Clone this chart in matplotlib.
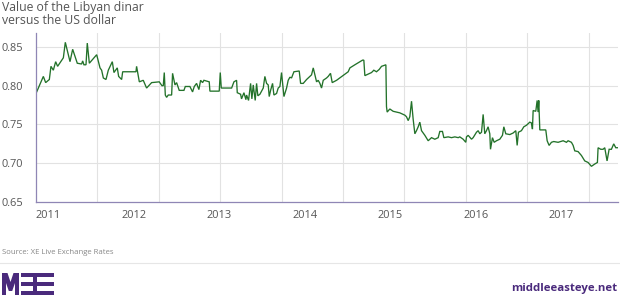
import numpy as np
import matplotlib.pyplot as plt
from matplotlib.patches import Polygon, Rectangle

# decimal year of each reading, and the LYD/USD value
years = [2011.000, 2011.086, 2011.113, 2011.156, 2011.175, 2011.203, 2011.230, 2011.253,
         2011.320, 2011.343, 2011.398, 2011.429, 2011.483, 2011.534, 2011.546, 2011.561,
         2011.585, 2011.600, 2011.624, 2011.710, 2011.749, 2011.768, 2011.788, 2011.819,
         2011.846, 2011.893, 2011.912, 2011.951, 2011.967, 2012.002, 2012.014, 2012.170,
         2012.177, 2012.209, 2012.255, 2012.294, 2012.353, 2012.442, 2012.474, 2012.489,
         2012.501, 2012.513, 2012.528, 2012.548, 2012.587, 2012.598, 2012.626, 2012.645,
         2012.676, 2012.731, 2012.747, 2012.801, 2012.832, 2012.852, 2012.879, 2012.906,
         2012.926, 2012.949, 2012.965, 2013.027, 2013.035, 2013.144, 2013.156, 2013.168,
         2013.289, 2013.316, 2013.347, 2013.355, 2013.394, 2013.405, 2013.433, 2013.456,
         2013.464, 2013.487, 2013.511, 2013.526, 2013.542, 2013.565, 2013.581, 2013.596,
         2013.620, 2013.659, 2013.678, 2013.698, 2013.717, 2013.729, 2013.745, 2013.768,
         2013.784, 2013.815, 2013.834, 2013.854, 2013.873, 2013.901, 2013.932, 2013.951,
         2013.971, 2013.990, 2014.018, 2014.080, 2014.096, 2014.127, 2014.166, 2014.224,
         2014.244, 2014.263, 2014.283, 2014.302, 2014.322, 2014.341, 2014.361, 2014.400,
         2014.419, 2014.446, 2014.466, 2014.517, 2014.653, 2014.673, 2014.731, 2014.821,
         2014.836, 2014.848, 2014.926, 2014.953, 2014.984, 2015.016, 2015.043, 2015.094,
         2015.101, 2015.109, 2015.140, 2015.179, 2015.257, 2015.316, 2015.335, 2015.355,
         2015.374, 2015.394, 2015.413, 2015.433, 2015.452, 2015.472, 2015.491, 2015.511,
         2015.550, 2015.589, 2015.628, 2015.667, 2015.706, 2015.725, 2015.756, 2015.772,
         2015.823, 2015.862, 2015.901, 2015.940, 2015.959, 2015.998, 2016.029, 2016.037,
         2016.057, 2016.096, 2016.115, 2016.154, 2016.174, 2016.193, 2016.213, 2016.232,
         2016.251, 2016.271, 2016.290, 2016.310, 2016.318, 2016.341, 2016.361, 2016.388,
         2016.427, 2016.458, 2016.474, 2016.497, 2016.544, 2016.583, 2016.614, 2016.630,
         2016.645, 2016.680, 2016.708, 2016.739, 2016.778, 2016.797, 2016.809, 2016.817,
         2016.848, 2016.864, 2016.875, 2016.883, 2016.895, 2016.965, 2016.981, 2017.004,
         2017.031, 2017.058, 2017.109, 2017.168, 2017.207, 2017.226, 2017.265, 2017.285,
         2017.304, 2017.343, 2017.382, 2017.421, 2017.460, 2017.499, 2017.538, 2017.569,
         2017.577, 2017.608, 2017.635, 2017.655, 2017.682, 2017.706, 2017.733, 2017.760,
         2017.784, 2017.811]
rate = [0.790, 0.812, 0.804, 0.808, 0.825, 0.820, 0.831, 0.825,
        0.836, 0.856, 0.831, 0.847, 0.829, 0.828, 0.832, 0.827,
        0.827, 0.855, 0.829, 0.840, 0.823, 0.820, 0.810, 0.808,
        0.820, 0.831, 0.817, 0.823, 0.812, 0.808, 0.818, 0.818,
        0.825, 0.805, 0.807, 0.797, 0.804, 0.805, 0.800, 0.800,
        0.817, 0.788, 0.785, 0.788, 0.788, 0.816, 0.801, 0.804,
        0.794, 0.794, 0.799, 0.799, 0.792, 0.799, 0.803, 0.795,
        0.807, 0.804, 0.807, 0.805, 0.793, 0.793, 0.817, 0.797,
        0.797, 0.805, 0.807, 0.791, 0.789, 0.783, 0.791, 0.782,
        0.788, 0.781, 0.803, 0.783, 0.801, 0.781, 0.803, 0.787,
        0.789, 0.797, 0.812, 0.803, 0.801, 0.786, 0.794, 0.803,
        0.788, 0.790, 0.797, 0.799, 0.817, 0.786, 0.797, 0.807,
        0.811, 0.810, 0.818, 0.819, 0.803, 0.803, 0.808, 0.814,
        0.823, 0.814, 0.805, 0.807, 0.803, 0.797, 0.807, 0.810,
        0.812, 0.816, 0.804, 0.807, 0.818, 0.823, 0.827, 0.833,
        0.833, 0.813, 0.817, 0.820, 0.818, 0.821, 0.825, 0.827,
        0.773, 0.766, 0.770, 0.767, 0.765, 0.762, 0.760, 0.755,
        0.760, 0.780, 0.757, 0.738, 0.742, 0.747, 0.753, 0.742,
        0.736, 0.729, 0.733, 0.731, 0.733, 0.741, 0.741, 0.733,
        0.734, 0.733, 0.734, 0.733, 0.734, 0.731, 0.727, 0.734,
        0.736, 0.731, 0.733, 0.740, 0.742, 0.738, 0.740, 0.763,
        0.738, 0.742, 0.747, 0.738, 0.718, 0.733, 0.727, 0.729,
        0.731, 0.736, 0.747, 0.738, 0.737, 0.739, 0.742, 0.723,
        0.740, 0.742, 0.747, 0.749, 0.753, 0.752, 0.744, 0.768,
        0.767, 0.781, 0.766, 0.781, 0.743, 0.743, 0.729, 0.723,
        0.727, 0.728, 0.727, 0.729, 0.727, 0.729, 0.727, 0.723,
        0.716, 0.715, 0.710, 0.703, 0.701, 0.696, 0.699, 0.701,
        0.720, 0.718, 0.718, 0.720, 0.703, 0.718, 0.718, 0.725,
        0.720, 0.720]

y_ticks = [0.65, 0.70, 0.75, 0.80, 0.85]
x_ticks = [2011, 2012, 2013, 2014, 2015, 2016, 2017]

purple = '#4a2a7c'
grey_txt = '#555555'
plt.rcParams['font.family'] = ['Open Sans', 'DejaVu Sans']

W, H = 620, 301
fig = plt.figure(figsize=(W / 100, H / 100), dpi=100)
ax = fig.add_axes([36 / W, 1 - 202 / H, 582 / W, 169 / H])

ax.plot(years, rate, color='#23722a', lw=0.95, solid_joinstyle='miter')
ax.set_xlim(2011, 2017.81)
ax.set_ylim(0.65, 0.868)

ax.set_yticks(y_ticks)
ax.set_yticklabels(['%.2f' % v for v in y_ticks])
ax.set_xticks(x_ticks)
ax.set_xticklabels([str(x) for x in x_ticks])
ax.tick_params(length=0, colors=grey_txt, labelsize=7.9)
ax.tick_params(axis='y', pad=24.5)
ax.tick_params(axis='x', pad=5.5)
for lbl in ax.get_yticklabels():
    lbl.set_horizontalalignment('left')
for lbl in ax.get_xticklabels():
    lbl.set_horizontalalignment('left')

# grid: horizontal at the ticks, vertical lines spaced on their own
for v in y_ticks[1:]:
    ax.axhline(v, color='#e2e2e2', lw=0.8, zorder=0)
for gx in np.arange(2011, 2017.81, 0.7185)[1:]:
    ax.axvline(gx, color='#e2e2e2', lw=0.8, zorder=0)

for s in ['top', 'right']:
    ax.spines[s].set_visible(False)
for s in ['left', 'bottom']:
    ax.spines[s].set_color('#8f86b5')
    ax.spines[s].set_linewidth(0.9)

fig.text(2 / W, 1 - 1 / H, 'Value of the Libyan dinar\nversus the US dollar',
         ha='left', va='top', fontsize=8.8, color=grey_txt, linespacing=1.05)
fig.text(2 / W, 1 - 252 / H, 'Source: XE Live Exchange Rates',
         ha='left', va='center', fontsize=5.6, color='#888888')
fig.add_artist(plt.Line2D([0, 1], [1 - 263 / H, 1 - 263 / H],
                          transform=fig.transFigure, color='#e6e6e6', lw=0.8))

# MEE logo built from shapes, pixel coords (y down)
def px(x, y):
    return (x / W, 1 - y / H)

m_shape = [(2, 295), (2, 273), (7.5, 273), (10.5, 282), (13.5, 273), (19, 273),
           (19, 295), (15, 295), (15, 283), (12.2, 291), (8.8, 291), (6, 283), (6, 295)]
fig.add_artist(Polygon([px(*p) for p in m_shape], closed=True,
                       transform=fig.transFigure, color=purple, lw=0))
bars = [(21, 273, 33, 3.8), (21, 282.2, 33, 3.8), (21, 291.2, 33, 3.8),
        (33, 273, 4, 22), (37, 273, 16, 3.8), (37, 282.2, 13, 3.8), (37, 291.2, 17, 3.8)]
for bx, by, bw, bh in bars:
    fig.add_artist(Rectangle(px(bx, by + bh), bw / W, bh / H,
                             transform=fig.transFigure, color=purple, lw=0))

fig.text(617 / W, 1 - 289 / H, 'middleeasteye.net', ha='right', va='center',
         fontsize=8.2, fontweight='bold', color=purple)

fig.savefig('out.png', dpi=100)
